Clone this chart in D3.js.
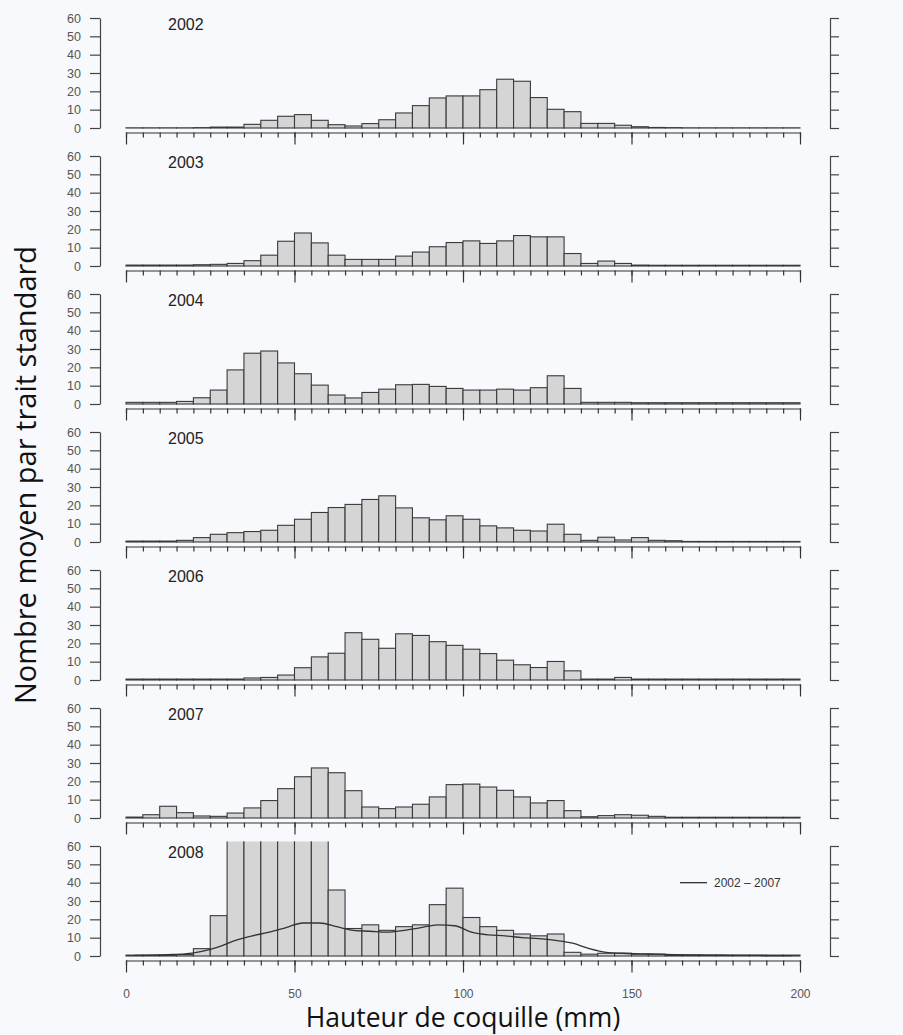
<!DOCTYPE html>
<html><head><meta charset="utf-8">
<script src="https://cdn.jsdelivr.net/npm/d3@7"></script>
<style>body{margin:0;background:#f7f9fc} svg{display:block}</style>
</head><body><svg id="c" width="903" height="1035"></svg>
<script>
const years = ["2002","2003","2004","2005","2006","2007","2008"];
const binStarts = d3.range(0, 200, 5);
const v2002 = [0.1,0.1,0.1,0.1,0.2,0.5,0.5,2,4.2,6.4,7.3,4.2,1.8,1.1,2.4,4.5,8.2,12.2,16.4,17.5,17.5,20.9,26.6,25.5,16.6,10.2,8.9,2.5,2.5,1.5,0.7,0.3,0.2,0.1,0.1,0.1,0.1,0.1,0.1,0.1];
const v2003 = [0.5,0.5,0.5,0.5,0.7,0.9,1.4,2.9,5.9,13.5,18,12.6,5.9,3.6,3.6,3.6,5.4,7.6,10.5,12.8,13.7,12.3,13.7,16.6,15.9,15.9,6.8,1.4,2.7,1.4,0.5,0.4,0.4,0.4,0.4,0.4,0.4,0.4,0.4,0.4];
const v2004 = [0.9,0.9,0.9,1.4,3.4,7.6,18.6,27.7,28.9,22.4,16.5,10.3,4.9,3.3,6.3,8.1,10.5,10.7,9.6,8.5,7.6,7.6,8.1,7.6,8.9,15.4,8.5,0.9,0.9,0.9,0.7,0.7,0.7,0.7,0.7,0.7,0.7,0.7,0.7,0.7];
const v2005 = [0.5,0.5,0.5,0.9,2.4,4.2,5.1,5.7,6.4,9.1,12.4,16.1,18.8,20.5,23.2,25.2,18.6,13.2,12.1,14.3,12.4,8.8,7.7,6.4,6,9.7,4.2,0.9,2.6,1.1,2.4,0.9,0.7,0.3,0.3,0.3,0.3,0.3,0.3,0.3];
const v2006 = [0.5,0.5,0.5,0.5,0.5,0.5,0.5,1.1,1.4,2.7,6.7,12.6,14.6,25.8,22.2,17.3,25.2,24.3,20.9,18.9,16.8,14.4,10.8,8.3,6.8,10.1,5,0.5,0.5,1.4,0.5,0.5,0.5,0.5,0.5,0.5,0.5,0.5,0.5,0.5];
const v2007 = [0.5,1.8,6.4,2.9,1.1,0.9,2.7,5.5,9.5,16,22.5,27.3,24.7,14.9,6,5.1,6,7.5,11.5,18.2,18.5,16.9,15.1,11.5,8.2,9.5,4,0.7,1.3,1.8,1.5,0.9,0.4,0.4,0.4,0.4,0.4,0.4,0.4,0.4];
const v2008 = [0.5,0.5,0.5,0.8,4,22,75,75,75,75,75,75,36,15,17,14,16,17,28,37,21,16,14,12,11,12,2,1,1.5,1.5,1,1,0.5,0.5,0.5,0.5,0.5,0.5,0.5,0.5];
const mean0207 = [0.3,0.5,0.8,1.2,2.5,5,8.5,11,13,15.5,18,18,16,14,13.5,13,14,15.5,17,16.5,13,11.5,11,10,9.5,8.5,7,4,2,1.5,1.2,1,0.8,0.6,0.5,0.4,0.3,0.3,0.2,0.2];
const series = [v2002,v2003,v2004,v2005,v2006,v2007,v2008];
const yTicks = [0,10,20,30,40,50,60];
const xMajor = [0,50,100,150,200];
const xMinor = d3.range(0, 201, 5);
const legendLabel = "2002 – 2007";
const yTitle = "Nombre moyen par trait standard";
const xTitle = "Hauteur de coquille (mm)";

const svg = d3.select("#c");
svg.append("rect").attr("width",903).attr("height",1035).attr("fill","#f7f9fc");
const x = d3.scaleLinear().domain([0,200]).range([126,800]);
const binW = 5;
const numFont = "'Liberation Sans', Arial, Helvetica, sans-serif";

years.forEach((yr, p) => {
  const y0 = 128 + p*138;
  const y = d3.scaleLinear().domain([0,60]).range([y0, y0-110]);
  const g = svg.append("g");
  const clipId = "clip"+p;
  svg.append("clipPath").attr("id", clipId).append("rect")
    .attr("x", 100).attr("y", y(62.5)).attr("width", 740).attr("height", y(0)-y(62.5)+2);

  g.append("g").attr("clip-path", `url(#${clipId})`)
    .selectAll("rect").data(series[p]).join("rect")
    .attr("x", (d,i) => x(binStarts[i]))
    .attr("width", (d,i) => x(binStarts[i]+binW) - x(binStarts[i]))
    .attr("y", d => y(d))
    .attr("height", d => y(0) - y(d))
    .attr("fill", "#d5d5d5")
    .attr("stroke", "#3a3a3a")
    .attr("stroke-width", 1.1);

  // x axis
  const axY = y0 + 4.5;
  const minor = g.append("g").attr("transform", `translate(0,${axY})`)
    .call(d3.axisBottom(x).tickValues(xMinor).tickSize(5).tickSizeOuter(0).tickFormat(""));
  const major = g.append("g").attr("transform", `translate(0,${axY})`)
    .call(d3.axisBottom(x).tickValues(xMajor).tickSize(12).tickSizeOuter(0).tickPadding(17)
      .tickFormat(p === 6 ? d3.format("d") : ""));
  major.select(".domain").remove();
  [minor, major].forEach(a => {
    a.selectAll("path,line").attr("stroke","#333").attr("stroke-width",1.2);
    a.selectAll("text").attr("font-family", numFont).attr("font-size", 12).attr("fill","#555");
  });

  // left axis
  const la = g.append("g").attr("transform","translate(100,0)")
    .call(d3.axisLeft(y).tickValues(yTicks).tickSize(10).tickSizeOuter(0).tickPadding(9));
  la.selectAll("path,line").attr("stroke","#444").attr("stroke-width",1.2);
  la.selectAll("text").attr("font-family", numFont).attr("font-size", 12.5).attr("fill","#555");

  // right axis
  const ra = g.append("g").attr("transform","translate(830,0)")
    .call(d3.axisRight(y).tickValues(yTicks).tickSize(9).tickSizeOuter(0).tickFormat(""));
  ra.selectAll("path,line").attr("stroke","#444").attr("stroke-width",1.2);

  g.append("text").attr("x", 168).attr("y", y(60)+11.5)
    .attr("font-family", numFont).attr("font-size", 16).attr("fill","#222").text(yr);

  if (p === 6) {
    const line = d3.line()
      .x((d,i) => x(binStarts[i] + binW/2))
      .y(d => y(d))
      .curve(d3.curveMonotoneX);
    g.append("path").datum(mean0207).attr("d", line)
      .attr("fill","none").attr("stroke","#333").attr("stroke-width",1.3);
    g.append("line").attr("x1",680).attr("x2",707).attr("y1",y(40)).attr("y2",y(40))
      .attr("stroke","#333").attr("stroke-width",1.3);
    g.append("text").attr("x",714).attr("y",y(40)+4)
      .attr("font-family", numFont).attr("font-size",12).attr("fill","#333").text(legendLabel);
  }
});

svg.append("text").attr("transform","translate(36,475) rotate(-90)")
  .attr("text-anchor","middle").attr("font-family","'Open Sans', sans-serif")
  .attr("font-size",29).attr("fill","#111").text(yTitle);
svg.append("text").attr("x",463).attr("y",1027)
  .attr("text-anchor","middle").attr("font-family","'Open Sans', sans-serif")
  .attr("font-size",26.5).attr("fill","#111").text(xTitle);
</script></body></html>
